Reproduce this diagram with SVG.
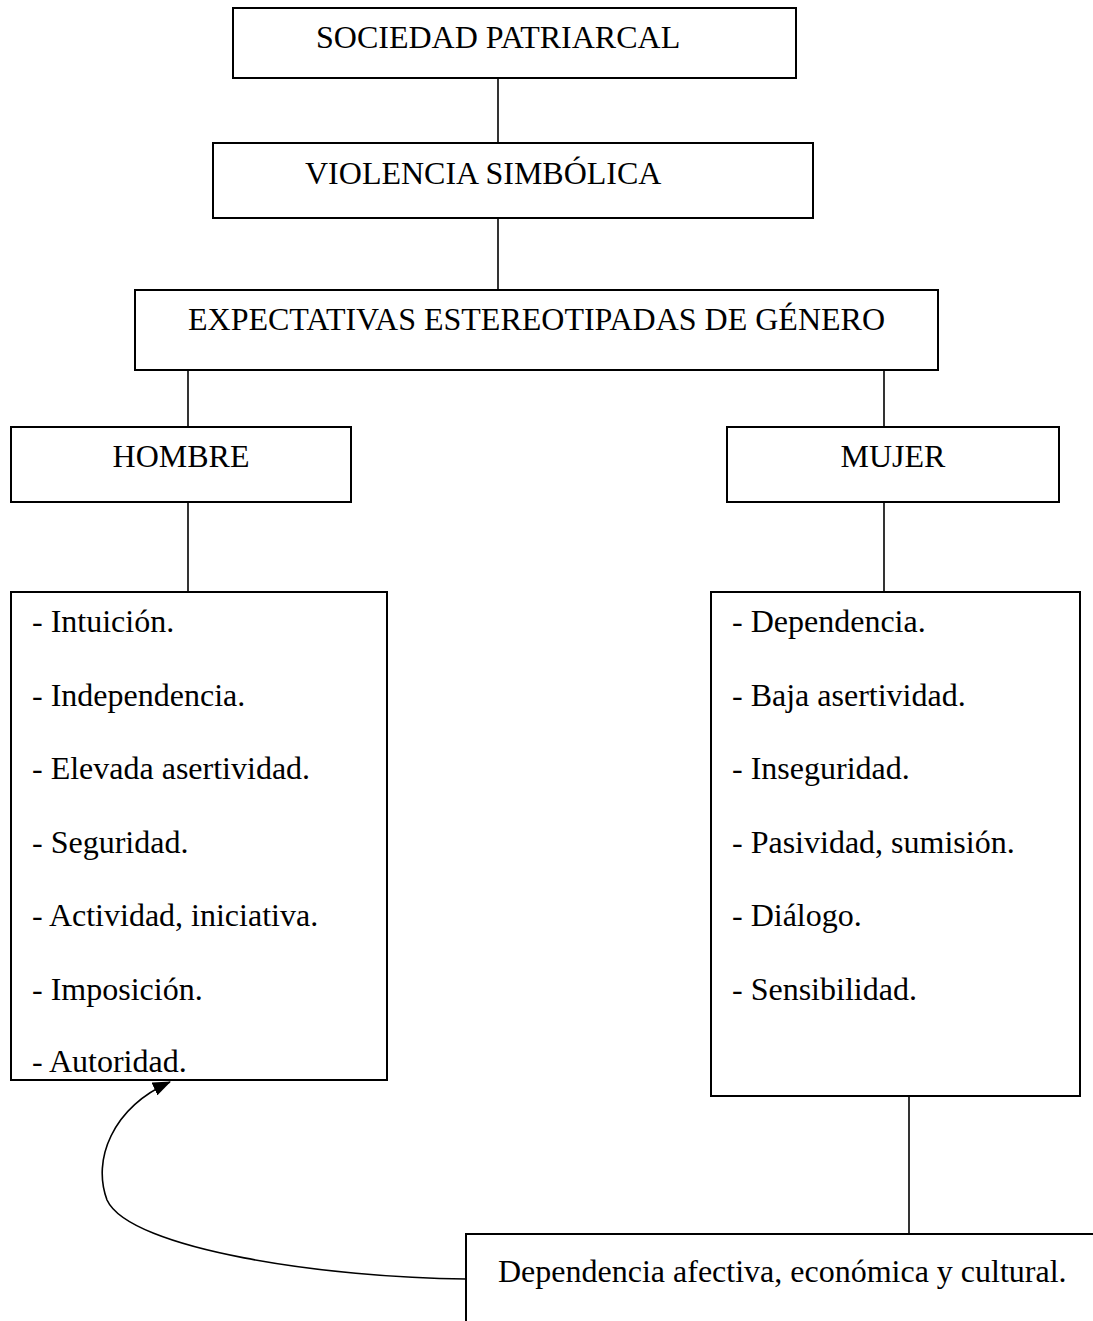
<svg xmlns="http://www.w3.org/2000/svg" width="1093" height="1321" viewBox="0 0 1093 1321">
<style>
.box{fill:#fff;stroke:#000;stroke-width:2}
.t{font-family:"Liberation Serif","Times New Roman",serif;font-size:32px;fill:#000}
.c{stroke:#000;stroke-width:1.6;fill:none}
</style>
<defs>
<marker id="ah" markerWidth="18" markerHeight="14" refX="17" refY="7" orient="auto" markerUnits="userSpaceOnUse" viewBox="0 0 18 14">
<path d="M0,0 L18,7 L0,14 z" fill="#000"/>
</marker>
</defs>
<g id="connectors">
<line class="c" x1="498" y1="78" x2="498" y2="143"/>
<line class="c" x1="498" y1="218" x2="498" y2="290"/>
<line class="c" x1="188" y1="370" x2="188" y2="427"/>
<line class="c" x1="884" y1="370" x2="884" y2="427"/>
<line class="c" x1="188" y1="502" x2="188" y2="592"/>
<line class="c" x1="884" y1="502" x2="884" y2="592"/>
<line class="c" x1="909" y1="1096" x2="909" y2="1234"/>
<path class="c" d="M466,1279 C330,1278 130,1250 107,1200 C92,1160 112,1108 170,1082" stroke-width="2.6" marker-end="url(#ah)"/>
</g>
<g id="n1"><rect class="box" x="233" y="8" width="563" height="70"/><text class="t" x="316" y="48">SOCIEDAD PATRIARCAL</text></g>
<g id="n2"><rect class="box" x="213" y="143" width="600" height="75"/><text class="t" x="305" y="184">VIOLENCIA SIMBÓLICA</text></g>
<g id="n3"><rect class="box" x="135" y="290" width="803" height="80"/><text class="t" x="536.5" y="330" text-anchor="middle">EXPECTATIVAS ESTEREOTIPADAS DE GÉNERO</text></g>
<g id="n4"><rect class="box" x="11" y="427" width="340" height="75"/><text class="t" x="181" y="467" text-anchor="middle">HOMBRE</text></g>
<g id="n5"><rect class="box" x="727" y="427" width="332" height="75"/><text class="t" x="893" y="467" text-anchor="middle">MUJER</text></g>
<g id="n6"><rect class="box" x="11" y="592" width="376" height="488"/>
<text class="t" x="32" y="632">- Intuición.</text>
<text class="t" x="32" y="705.5">- Independencia.</text>
<text class="t" x="32" y="779">- Elevada asertividad.</text>
<text class="t" x="32" y="852.5">- Seguridad.</text>
<text class="t" x="32" y="926">- Actividad, iniciativa.</text>
<text class="t" x="32" y="999.5">- Imposición.</text>
<text class="t" x="32" y="1072">- Autoridad.</text>
</g>
<g id="n7"><rect class="box" x="711" y="592" width="369" height="504"/>
<text class="t" x="732" y="632">- Dependencia.</text>
<text class="t" x="732" y="705.5">- Baja asertividad.</text>
<text class="t" x="732" y="779">- Inseguridad.</text>
<text class="t" x="732" y="852.5">- Pasividad, sumisión.</text>
<text class="t" x="732" y="926">- Diálogo.</text>
<text class="t" x="732" y="999.5">- Sensibilidad.</text>
</g>
<g id="n8"><rect class="box" x="466" y="1234" width="640" height="100"/><text class="t" x="498" y="1282">Dependencia afectiva, económica y cultural.</text></g>
</svg>
